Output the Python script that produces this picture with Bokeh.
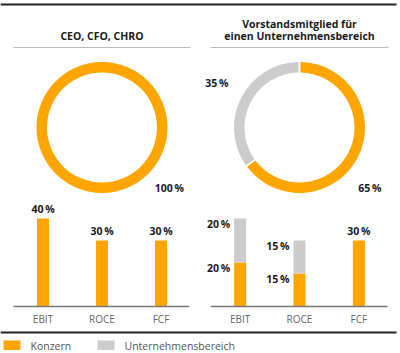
import math
from bokeh.plotting import figure
from bokeh.models import Range1d
from bokeh.core.properties import value
from bokeh.embed import file_html
from bokeh.resources import INLINE

# ---------------- data ----------------
panel_titles = [["CEO, CFO, CHRO"], ["Vorstandsmitglied für", "einen Unternehmensbereich"]]
donut_konzern = [100, 65]
donut_bereich = [0, 35]
categories = ["EBIT", "ROCE", "FCF"]
ceo_konzern = [40, 30, 30]
ceo_bereich = [0, 0, 0]
vm_konzern = [20, 15, 30]
vm_bereich = [20, 15, 0]
legend_labels = ["Konzern", "Unternehmensbereich"]

# ---------------- style ----------------
W, H = 400, 353
ORANGE = "#FFA500"
GRAY = "#CCCCCC"
DARK = "#1a1a1a"
FONT = value("Open Sans")

def Y(py):
    return H - py

p = figure(width=W, height=H, output_backend="svg", toolbar_location=None,
           x_range=Range1d(0, W), y_range=Range1d(0, H),
           x_axis_location=None, y_axis_location=None, min_border=0)
p.grid.visible = False
p.outline_line_color = None
p.background_fill_color = "white"
p.border_fill_color = "white"

# frame lines
p.segment(x0=[0, 0], y0=[Y(4), Y(332)], x1=[396, 396], y1=[Y(4), Y(332)],
          line_color="#222222", line_width=2.2)

panels = [(13, 190), (210, 388)]
konz_bars = [ceo_konzern, vm_konzern]
ber_bars = [ceo_bereich, vm_bereich]
donut_cy = 127
r_out, r_in = 65.5, 55
px_per_pct = 2.2
base = 306
bar_w = 12

for i, (x0, x1) in enumerate(panels):
    cx = (x0 + x1) / 2
    # title
    lines = panel_titles[i]
    n = len(lines)
    for j, t in enumerate(lines):
        ty = 35 - (n - 1 - j) * 11.5
        p.text(x=[cx], y=[Y(ty)], text=[t], text_font=FONT, text_font_style="bold",
               text_font_size="10.5px", text_align="center", text_baseline="middle",
               text_color=DARK)
    p.segment(x0=[x0], y0=[Y(47)], x1=[x1], y1=[Y(47)], line_color="#BBBBBB", line_width=1)

    # donut
    shares = [donut_konzern[i], donut_bereich[i]]
    colors = [ORANGE, GRAY]
    nz = sum(1 for s in shares if s > 0)
    gap = math.radians(1.8) if nz > 1 else 0
    start = math.pi / 2
    for s, c in zip(shares, colors):
        if s <= 0:
            continue
        sweep = 2 * math.pi * s / 100
        end = start - sweep  # clockwise
        p.annular_wedge(x=[cx], y=[Y(donut_cy)], inner_radius=r_in, outer_radius=r_out,
                        start_angle=end + gap / 2, end_angle=start - gap / 2,
                        color=c, line_color=None)
        start = end
    # donut labels
    p.text(x=[cx + 82], y=[Y(donut_cy + 60)], text=[f"{donut_konzern[i]}\u2009%"], text_font=FONT,
           text_font_style="bold", text_font_size="10.5px", text_align="right",
           text_baseline="middle", text_color=DARK)
    if donut_bereich[i] > 0:
        p.text(x=[cx - 71], y=[Y(donut_cy - 45)], text=[f"{donut_bereich[i]}\u2009%"], text_font=FONT,
               text_font_style="bold", text_font_size="10.5px", text_align="right",
               text_baseline="middle", text_color=DARK)

    # bars
    pw = x1 - x0
    for k, cat in enumerate(categories):
        bx = x0 + (k + 0.5) * pw / 3
        vk = konz_bars[i][k]
        vb = ber_bars[i][k]
        topk = base - vk * px_per_pct
        topb = topk - vb * px_per_pct
        p.quad(left=[bx - bar_w / 2], right=[bx + bar_w / 2], bottom=[Y(base)], top=[Y(topk)],
               color=ORANGE, line_color=None)
        if vb > 0:
            p.quad(left=[bx - bar_w / 2], right=[bx + bar_w / 2], bottom=[Y(topk)], top=[Y(topb)],
                   color=GRAY, line_color=None)
            for v, tp in ((vk, topk), (vb, topb)):
                p.text(x=[bx - bar_w / 2 - 4], y=[Y(tp + 5.5)], text=[f"{v}\u2009%"], text_font=FONT,
                       text_font_style="bold", text_font_size="10.5px", text_align="right",
                       text_baseline="middle", text_color=DARK)
        else:
            p.text(x=[bx], y=[Y(topk - 10)], text=[f"{vk}\u2009%"], text_font=FONT,
                   text_font_style="bold", text_font_size="10.5px", text_align="center",
                   text_baseline="middle", text_color=DARK)
        p.text(x=[bx], y=[Y(318)], text=[cat], text_font=FONT, text_font_size="10px",
               text_align="center", text_baseline="middle", text_color="#666666")
    p.segment(x0=[x0], y0=[Y(base)], x1=[x1 - 1], y1=[Y(base)], line_color="#777777", line_width=1.5)

# legend
leg_x = [3, 97]
for lx, lab, c in zip(leg_x, legend_labels, [ORANGE, GRAY]):
    p.quad(left=[lx], right=[lx + 17], bottom=[Y(349.5)], top=[Y(340)], color=c, line_color=None)
    p.text(x=[lx + 27], y=[Y(345)], text=[lab], text_font=FONT, text_font_size="10.5px",
           text_align="left", text_baseline="middle", text_color="#555555")

open("out.html", "w").write(file_html(p, INLINE))
